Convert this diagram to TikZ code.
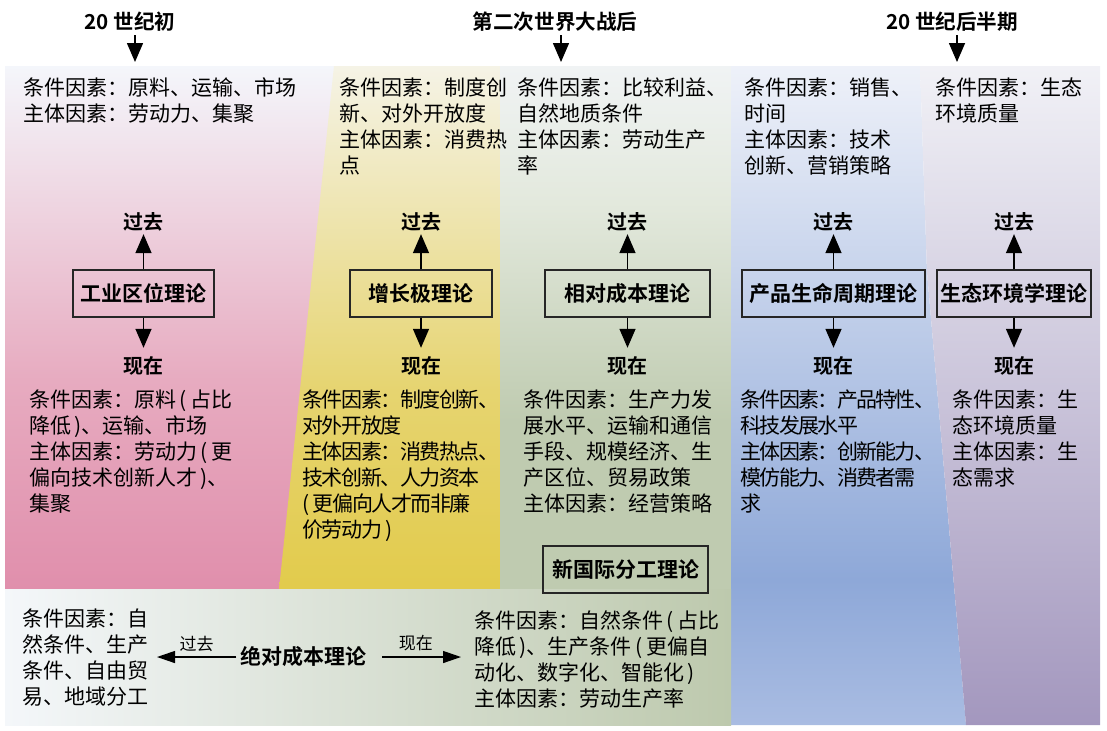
\documentclass[tikz,border=0pt]{standalone}
\usepackage{fontspec}
\setmainfont{Noto Sans CJK SC}[BoldFont={Noto Sans CJK SC Bold}]
\usepackage{tikz}
\usetikzlibrary{arrows.meta,calc}

\definecolor{pinktop}{HTML}{F4F6FB}
\definecolor{pinkmid}{HTML}{E7ABC0}
\definecolor{pinkbot}{HTML}{E08FAC}
\definecolor{yellowtop}{HTML}{F5F3E6}
\definecolor{yellowmid}{HTML}{E6D470}
\definecolor{yellowbot}{HTML}{E2CB4C}
\definecolor{greentop}{HTML}{F0F3F4}
\definecolor{greenmid}{HTML}{E3E9DD}
\definecolor{greenbot}{HTML}{BFCBB0}
\definecolor{bluetop}{HTML}{EEF1F9}
\definecolor{bluemid}{HTML}{8EA8D8}
\definecolor{bluebot}{HTML}{A9BCE2}
\definecolor{purpletop}{HTML}{F1F1F6}
\definecolor{purplebot}{HTML}{A397BE}
\definecolor{stripleft}{HTML}{F4F7FA}
\definecolor{stripright}{HTML}{BDC9AD}

\pgfdeclareverticalshading{pinkfade}{100bp}{color(0bp)=(pinkbot); color(25bp)=(pinkbot); color(45bp)=(pinkmid); color(75bp)=(pinktop); color(100bp)=(pinktop)}
\pgfdeclareverticalshading{yellowfade}{100bp}{color(0bp)=(yellowbot); color(25bp)=(yellowbot); color(44bp)=(yellowmid); color(75bp)=(yellowtop); color(100bp)=(yellowtop)}
\pgfdeclareverticalshading{greenfade}{100bp}{color(0bp)=(greenbot); color(41bp)=(greenbot); color(62bp)=(greenmid); color(75bp)=(greentop); color(100bp)=(greentop)}
\pgfdeclareverticalshading{bluefade}{100bp}{color(0bp)=(bluebot); color(25bp)=(bluebot); color(36bp)=(bluemid); color(75bp)=(bluetop); color(100bp)=(bluetop)}

\begin{document}
\begin{tikzpicture}[x=0.5pt,y=-0.5pt,
   box/.style={draw=black!85,line width=0.6pt,inner sep=0pt,minimum height=23.5pt,font=\bfseries\fontsize{10.5}{12}\selectfont},
   hd/.style={inner sep=1.5pt,font=\bfseries\fontsize{10.3}{12}\selectfont},
   lbl/.style={inner sep=1.5pt,font=\bfseries\fontsize{10}{12}\selectfont},
   txt/.style={anchor=north west,align=left,inner sep=0pt,font=\fontsize{10.5}{13}\selectfont},
   sm/.style={inner sep=2.5pt,font=\fontsize{8.5}{10}\selectfont},
   arr/.style={-{Triangle[length=9.5pt,width=8pt]},line width=0.75pt},
   arrs/.style={-{Triangle[length=9pt,width=6pt]},line width=0.65pt}]
\useasboundingbox (0,0) rectangle (1107,730);
% panels
\shade[shading=pinkfade] (5,66) rectangle (334,589);
\shade[shading=yellowfade] (334,66) -- (500,66) -- (500,589) -- (279,589) -- cycle;
\shade[shading=greenfade] (500,66) rectangle (731,589);
\shade[shading=bluefade] (731,66) -- (920,66) -- (927,272) -- (966,725) -- (731,725) -- cycle;
\shade[top color=purpletop,bottom color=purplebot] (920,66) -- (1100,66) -- (1100,725) -- (966,725) -- (927,272) -- cycle;
\shade[left color=stripleft,right color=stripright] (5,589) rectangle (731,725);

% periods
\path (130,22) node (h1) [hd] {20 世纪初}
      (555,22) node (h2) [hd] {第二次世界大战后}
      (952,22) node (h3) [hd] {20 世纪后半期};
\coordinate (t1) at (135,62);
\coordinate (t2) at (561,62);
\coordinate (t3) at (957,62);
\draw [arr] (h1.south -| t1) -- (t1);
\draw [arr] (h2.south -| t2) -- (t2);
\draw [arr] (h3.south -| t3) -- (t3);

% theories
\path (143.5,293.5) node (b1) [box,minimum width=70.5pt] {工业区位理论}
      (421,293.5)   node (b2) [box,minimum width=71pt]   {增长极理论}
      (627.5,293.5) node (b3) [box,minimum width=82.5pt] {相对成本理论}
      (833.5,293.5) node (b4) [box,minimum width=91.5pt] {产品生命周期理论}
      (1014,293.5)  node (b5) [box,minimum width=77pt]   {生态环境学理论}
      (625.5,569.5) node (b6) [box,minimum width=82.5pt] {新国际分工理论};

\node (pst1) [lbl] at ($(b1.north)+(0,-48)$) {过去};
\node (pst2) [lbl] at ($(b2.north)+(0,-48)$) {过去};
\node (pst3) [lbl] at ($(b3.north)+(0,-48)$) {过去};
\node (pst4) [lbl] at ($(b4.north)+(0,-48)$) {过去};
\node (pst5) [lbl] at ($(b5.north)+(0,-48)$) {过去};
\node (now1) [lbl] at ($(b1.south)+(0,48)$) {现在};
\node (now2) [lbl] at ($(b2.south)+(0,48)$) {现在};
\node (now3) [lbl] at ($(b3.south)+(0,48)$) {现在};
\node (now4) [lbl] at ($(b4.south)+(0,48)$) {现在};
\node (now5) [lbl] at ($(b5.south)+(0,48)$) {现在};
\draw [arr] (b1) -- (pst1);
\draw [arr] (b2) -- (pst2);
\draw [arr] (b3) -- (pst3);
\draw [arr] (b4) -- (pst4);
\draw [arr] (b5) -- (pst5);
\draw [arr,shorten >=2.5pt] (b1) -- (now1);
\draw [arr,shorten >=2.5pt] (b2) -- (now2);
\draw [arr,shorten >=2.5pt] (b3) -- (now3);
\draw [arr,shorten >=2.5pt] (b4) -- (now4);
\draw [arr,shorten >=2.5pt] (b5) -- (now5);

% factors, past
\node (f1) [txt] at (22.7,77) {条件因素：原料、运输、市场\\主体因素：劳动力、集聚};
\node (f2) [txt] at (339,77) {条件因素：制度创\\新、对外开放度\\主体因素：消费热\\点};
\node (f3) [txt] at (517,77) {条件因素：比较利益、\\自然地质条件\\主体因素：劳动生产\\率};
\node (f4) [txt] at (744,77) {条件因素：销售、\\时间\\主体因素：技术\\创新、营销策略};
\node (f5) [txt] at (935,77) {条件因素：生态\\环境质量};

% factors, now
\node (g1) [txt] at (28.6,389) {条件因素：原料\,(\,占比\\降低\,)、运输、市场\\主体因素：劳动力\,(\,更\\偏向技术创新人才\,)、\\集聚};
\node (g2) [txt,font=\fontsize{10.5}{13}\selectfont\addfontfeature{LetterSpace=-7}] at (302,389) {条件因素：制度创新、\\对外开放度\\主体因素：消费热点、\\技术创新、人力资本\\(\,更偏向人才而非廉\\价劳动力\,)};
\node (g3) [txt] at (523,389) {条件因素：生产力发\\展水平、运输和通信\\手段、规模经济、生\\产区位、贸易政策\\主体因素：经营策略};
\node (g4) [txt,font=\fontsize{10.5}{13}\selectfont\addfontfeature{LetterSpace=-8}] at (740,389) {条件因素：产品特性、\\科技发展水平\\主体因素：创新能力、\\模仿能力、消费者需\\求};
\node (g5) [txt] at (952,389) {条件因素：生\\态环境质量\\主体因素：生\\态需求};

% absolute cost
\node (abs) [box,draw=none,inner sep=1.75pt] at (303.5,657) {绝对成本理论};
\coordinate (lt) at (157,657);
\coordinate (rt) at (461,657);
\draw [arrs] (abs.west) -- node [sm,above] {过去} (lt);
\draw [arrs,shorten <=5.75pt] (abs.east) -- node [sm,above] {现在} (rt);
\node (e1) [txt] at (22,608) {条件因素：自\\然条件、生产\\条件、自由贸\\易、地域分工};
\node (e2) [txt] at (474,610) {条件因素：自然条件\,(\,占比\\降低\,)、生产条件\,(\,更偏自\\动化、数字化、智能化\,)\\主体因素：劳动生产率};
\end{tikzpicture}
\end{document}
